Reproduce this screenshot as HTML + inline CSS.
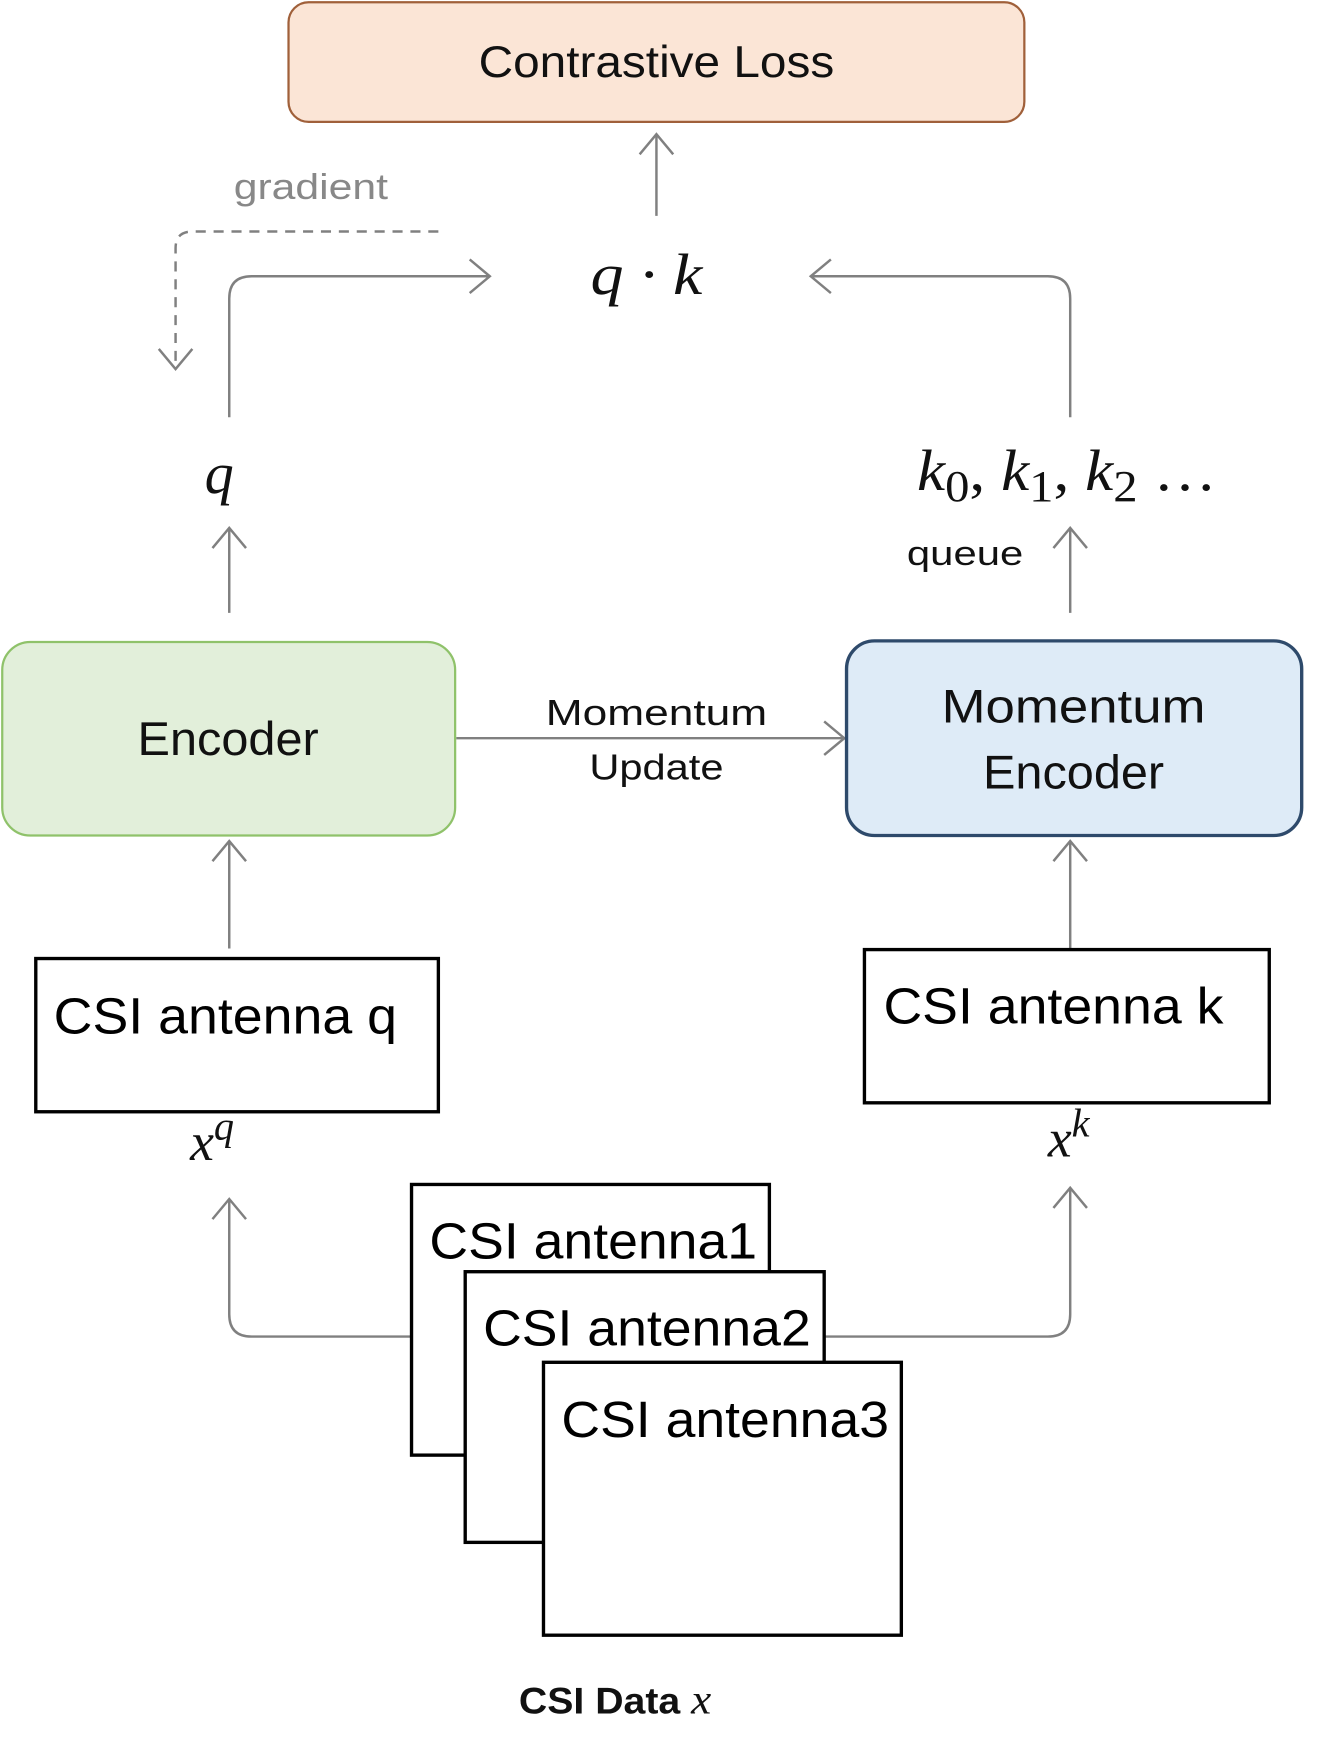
<!DOCTYPE html>
<html><head><meta charset="utf-8"><style>html,body{margin:0;padding:0;background:#fff}svg{display:block}</style></head>
<body>
<svg width="1333" height="1756" viewBox="0 0 1192 1570" preserveAspectRatio="none" xmlns="http://www.w3.org/2000/svg" font-family="Liberation Sans, sans-serif">
<defs>
<marker id="ah" markerWidth="24" markerHeight="34" refX="20" refY="17" orient="auto" markerUnits="userSpaceOnUse">
<path d="M2,2 L20,17 L2,32" fill="none" stroke="#808080" stroke-width="2.2"/>
</marker>
</defs>
<rect x="258" y="2" width="658" height="107" rx="18" fill="#fbe5d6" stroke="#a0603a" stroke-width="2"/>
<text x="587" y="69" font-size="40" text-anchor="middle" fill="#111" textLength="318" lengthAdjust="spacingAndGlyphs">Contrastive Loss</text>
<g stroke="#808080" stroke-width="2.2" fill="none">
<line x1="587" y1="193" x2="587" y2="120" marker-end="url(#ah)"/>
<path d="M392,207 H172 Q157,207 157,222 V330" stroke-dasharray="9,7" marker-end="url(#ah)"/>
<path d="M205,373 V267 Q205,247 225,247 H438" marker-end="url(#ah)"/>
<path d="M957,373 V267 Q957,247 937,247 H725" marker-end="url(#ah)"/>
<line x1="205" y1="548" x2="205" y2="472" marker-end="url(#ah)"/>
<line x1="957" y1="548" x2="957" y2="472" marker-end="url(#ah)"/>
<line x1="408" y1="660" x2="755" y2="660" marker-end="url(#ah)"/>
<line x1="205" y1="848" x2="205" y2="752" marker-end="url(#ah)"/>
<line x1="957" y1="848" x2="957" y2="752" marker-end="url(#ah)"/>
<path d="M368,1195 H225 Q205,1195 205,1175 V1072" marker-end="url(#ah)"/>
<path d="M737,1195 H937 Q957,1195 957,1175 V1062" marker-end="url(#ah)"/>
</g>
<text x="278" y="178" font-size="32" text-anchor="middle" fill="#888" textLength="138" lengthAdjust="spacingAndGlyphs">gradient</text>
<text x="578" y="263" font-size="52" text-anchor="middle" font-family="Liberation Serif, serif" font-style="italic" fill="#111" textLength="100" lengthAdjust="spacingAndGlyphs">q · k</text>
<text x="196" y="441" font-size="52" text-anchor="middle" font-family="Liberation Serif, serif" font-style="italic" fill="#111">q</text>
<text x="820" y="438" font-size="52" font-family="Liberation Serif, serif" fill="#111" textLength="268" lengthAdjust="spacingAndGlyphs"><tspan font-style="italic">k</tspan><tspan font-size="40" dy="10">0</tspan><tspan dy="-10">, </tspan><tspan font-style="italic">k</tspan><tspan font-size="40" dy="10">1</tspan><tspan dy="-10">, </tspan><tspan font-style="italic">k</tspan><tspan font-size="40" dy="10">2</tspan><tspan dy="-10"> …</tspan></text>
<text x="863" y="505" font-size="31" text-anchor="middle" fill="#111" textLength="104" lengthAdjust="spacingAndGlyphs">queue</text>
<rect x="2" y="574" width="405" height="173" rx="25" fill="#e2efda" stroke="#8fc26a" stroke-width="2"/>
<text x="204" y="675" font-size="42" text-anchor="middle" fill="#111" textLength="162" lengthAdjust="spacingAndGlyphs">Encoder</text>
<text x="587" y="648" font-size="32" text-anchor="middle" fill="#111" textLength="198" lengthAdjust="spacingAndGlyphs">Momentum</text>
<text x="587" y="697" font-size="32" text-anchor="middle" fill="#111" textLength="120" lengthAdjust="spacingAndGlyphs">Update</text>
<rect x="757" y="573" width="407" height="174" rx="25" fill="#deebf7" stroke="#2e4a6b" stroke-width="3"/>
<text x="960" y="646" font-size="42" text-anchor="middle" fill="#111" textLength="236" lengthAdjust="spacingAndGlyphs">Momentum</text>
<text x="960" y="705" font-size="42" text-anchor="middle" fill="#111" textLength="162" lengthAdjust="spacingAndGlyphs">Encoder</text>
<rect x="32" y="857" width="360" height="137" fill="#fff" stroke="#000" stroke-width="3"/>
<text x="48" y="924" font-size="46" fill="#000" textLength="307" lengthAdjust="spacingAndGlyphs">CSI antenna q</text>
<rect x="773" y="849" width="362" height="137" fill="#fff" stroke="#000" stroke-width="3"/>
<text x="790" y="915" font-size="46" fill="#000" textLength="304" lengthAdjust="spacingAndGlyphs">CSI antenna k</text>
<text x="170" y="1037" font-size="48" font-family="Liberation Serif, serif" font-style="italic" fill="#111">x<tspan font-size="36" dy="-18">q</tspan></text>
<text x="937" y="1034" font-size="48" font-family="Liberation Serif, serif" font-style="italic" fill="#111">x<tspan font-size="36" dy="-18">k</tspan></text>
<rect x="368" y="1059" width="320" height="242" fill="#fff" stroke="#000" stroke-width="3"/>
<text x="384" y="1125" font-size="46" fill="#000" textLength="293" lengthAdjust="spacingAndGlyphs">CSI antenna1</text>
<rect x="416" y="1137" width="321" height="242" fill="#fff" stroke="#000" stroke-width="3"/>
<text x="432" y="1203" font-size="46" fill="#000" textLength="293" lengthAdjust="spacingAndGlyphs">CSI antenna2</text>
<rect x="486" y="1218" width="320" height="244" fill="#fff" stroke="#000" stroke-width="3"/>
<text x="502" y="1285" font-size="46" fill="#000" textLength="293" lengthAdjust="spacingAndGlyphs">CSI antenna3</text>
<text x="550" y="1532" font-size="33" font-weight="bold" text-anchor="middle" fill="#111" textLength="172" lengthAdjust="spacingAndGlyphs">CSI Data <tspan font-family="Liberation Serif, serif" font-style="italic" font-weight="normal" font-size="38">x</tspan></text>
</svg>
</body></html>
